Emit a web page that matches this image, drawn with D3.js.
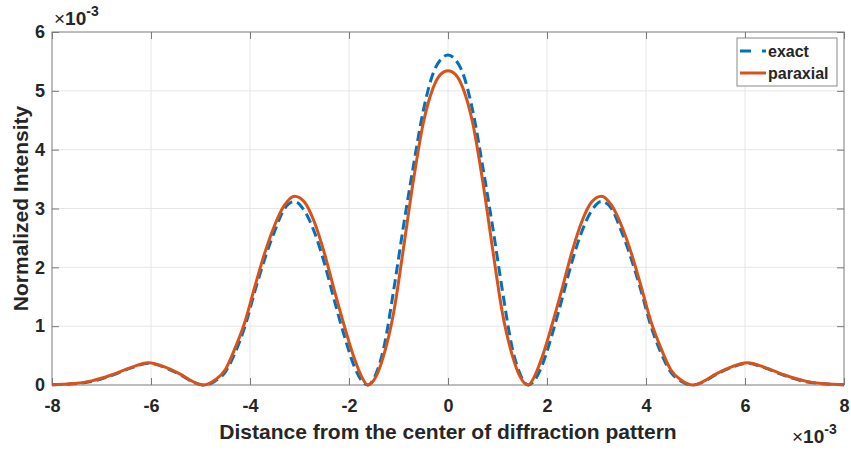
<!DOCTYPE html>
<html>
<head>
<meta charset="utf-8">
<script src="https://cdn.jsdelivr.net/npm/d3@7"></script>
<style>
  body { margin: 0; background: #fff; }
  text { font-family: "Liberation Sans", Arial, sans-serif; font-weight: bold; fill: #262626; }
</style>
</head>
<body>
<div id="chart"></div>
<script>
// values in units of 1e-3
var xVals = [-8, -7.6, -7.2, -6.8, -6.4, -6.05, -5.7, -5.4, -5.2, -4.95, -4.7, -4.5, -4.3, -4.1, -3.9, -3.7, -3.5, -3.3, -3.1, -2.9,
             -2.7, -2.5, -2.3, -2.1, -1.9, -1.75, -1.62, -1.45, -1.3, -1.1, -0.9, -0.7, -0.5, -0.3, -0.15, 0,
             0.15, 0.3, 0.5, 0.7, 0.9, 1.1, 1.3, 1.45, 1.62, 1.75, 1.9, 2.1, 2.3, 2.5, 2.7, 2.9, 3.1, 3.3, 3.5,
             3.7, 3.9, 4.1, 4.3, 4.5, 4.7, 4.95, 5.2, 5.4, 5.7, 6.05, 6.4, 6.8, 7.2, 7.6, 8];

var exactVals = [0.005, 0.02, 0.06, 0.16, 0.29, 0.37, 0.29, 0.17, 0.07, 0.0, 0.07, 0.22, 0.55, 1.0, 1.6, 2.15, 2.62, 3.0, 3.12, 2.96,
                 2.6, 2.08, 1.45, 0.85, 0.33, 0.08, 0.0, 0.2, 0.62, 1.6, 2.7, 3.72, 4.66, 5.3, 5.53, 5.61,
                 5.53, 5.3, 4.66, 3.72, 2.7, 1.6, 0.62, 0.2, 0.0, 0.08, 0.33, 0.85, 1.45, 2.08, 2.6, 2.96, 3.12, 3.0, 2.62,
                 2.15, 1.6, 1.0, 0.55, 0.22, 0.07, 0.0, 0.07, 0.17, 0.29, 0.37, 0.29, 0.16, 0.06, 0.02, 0.005];

var paraxialVals = [0.005, 0.02, 0.07, 0.17, 0.30, 0.38, 0.30, 0.18, 0.08, 0.0, 0.09, 0.26, 0.63, 1.08, 1.68, 2.25, 2.72, 3.06, 3.21, 3.11,
                    2.77, 2.25, 1.62, 1.02, 0.47, 0.15, 0.0, 0.15, 0.50, 1.22, 2.32, 3.47, 4.45, 5.05, 5.28, 5.34,
                    5.28, 5.05, 4.45, 3.47, 2.32, 1.22, 0.50, 0.15, 0.0, 0.15, 0.47, 1.02, 1.62, 2.25, 2.77, 3.11, 3.21, 3.06, 2.72,
                    2.25, 1.68, 1.08, 0.63, 0.26, 0.09, 0.0, 0.08, 0.18, 0.30, 0.38, 0.30, 0.17, 0.07, 0.02, 0.005];

var xTicks = [-8, -6, -4, -2, 0, 2, 4, 6, 8];
var yTicks = [0, 1, 2, 3, 4, 5, 6];
var seriesNames = ["exact", "paraxial"];
var seriesColors = ["#0072BD", "#D95319"];

var width = 851, height = 451;
var pLeft = 52, pRight = 844, pTop = 32, pBottom = 385;

var svg = d3.select("#chart").append("svg")
    .attr("width", width)
    .attr("height", height);

var x = d3.scaleLinear().domain([-8, 8]).range([pLeft, pRight]);
var y = d3.scaleLinear().domain([0, 6]).range([pBottom, pTop]);

// grid
svg.append("g").selectAll("line").data(xTicks.slice(1, -1)).enter().append("line")
    .attr("x1", d => x(d)).attr("x2", d => x(d))
    .attr("y1", pTop).attr("y2", pBottom)
    .style("stroke", "#e6e6e6").style("stroke-width", 1);
svg.append("g").selectAll("line").data(yTicks.slice(1, -1)).enter().append("line")
    .attr("x1", pLeft).attr("x2", pRight)
    .attr("y1", d => y(d)).attr("y2", d => y(d))
    .style("stroke", "#e6e6e6").style("stroke-width", 1);

// axes (ticks inside, box on)
function styleAxis(g) {
  g.select(".domain").remove();
  g.selectAll(".tick line").style("stroke", "#7a7a7a");
  g.selectAll("text").style("font-size", "18px").style("font-family", "Liberation Sans, Arial, sans-serif")
    .style("font-weight", "bold").style("fill", "#262626");
}
var fmt = d => String(d);
svg.append("g").attr("transform", "translate(0," + pBottom + ")")
    .call(d3.axisBottom(x).tickValues(xTicks).tickSizeInner(-7).tickSizeOuter(0).tickPadding(14).tickFormat(fmt))
    .call(styleAxis);
svg.append("g").attr("transform", "translate(" + pLeft + ",0)")
    .call(d3.axisLeft(y).tickValues(yTicks).tickSizeInner(-7).tickSizeOuter(0).tickPadding(7).tickFormat(fmt))
    .call(styleAxis);
svg.append("g").attr("transform", "translate(0," + pTop + ")")
    .call(d3.axisTop(x).tickValues(xTicks).tickSizeInner(-7).tickSizeOuter(0).tickFormat(""))
    .call(styleAxis);
svg.append("g").attr("transform", "translate(" + pRight + ",0)")
    .call(d3.axisRight(y).tickValues(yTicks).tickSizeInner(-7).tickSizeOuter(0).tickFormat(""))
    .call(styleAxis);

svg.append("rect")
    .attr("x", pLeft).attr("y", pTop)
    .attr("width", pRight - pLeft).attr("height", pBottom - pTop)
    .style("fill", "none").style("stroke", "#7a7a7a").style("stroke-width", 1);

// lines
svg.append("clipPath").attr("id", "clip").append("rect")
    .attr("x", pLeft).attr("y", pTop - 2).attr("width", pRight - pLeft).attr("height", pBottom - pTop + 4);

var line = d3.line()
    .x((d, i) => x(xVals[i]))
    .y(d => y(d))
    .curve(d3.curveMonotoneX);

svg.append("path").datum(exactVals)
    .attr("clip-path", "url(#clip)")
    .attr("d", line)
    .style("fill", "none").style("stroke", seriesColors[0]).style("stroke-width", 3)
    .style("stroke-dasharray", "10,5");

svg.append("path").datum(paraxialVals)
    .attr("clip-path", "url(#clip)")
    .attr("d", line)
    .style("fill", "none").style("stroke", seriesColors[1]).style("stroke-width", 3);

// exponent labels
function exponent(px, py) {
  var t = svg.append("text").attr("x", px).attr("y", py).style("font-size", "19px");
  t.append("tspan").text("\u00d7").style("font-weight", "normal");
  t.append("tspan").text("10");
  t.append("tspan").attr("dy", -9).style("font-size", "14px").text("-3");
}
exponent(54, 25);
exponent(792, 443);

// axis labels
svg.append("text")
    .attr("x", (pLeft + pRight) / 2).attr("y", 439)
    .attr("text-anchor", "middle")
    .style("font-size", "21px")
    .text("Distance from the center of diffraction pattern");

svg.append("text")
    .attr("transform", "translate(28," + (pTop + pBottom) / 2 + ") rotate(-90)")
    .attr("text-anchor", "middle")
    .style("font-size", "21px")
    .text("Normalized Intensity");

// legend
var legend = svg.append("g");
legend.append("rect")
    .attr("x", 737).attr("y", 38).attr("width", 100).attr("height", 48)
    .style("fill", "#fff").style("stroke", "#8a8a8a").style("stroke-width", 1);
seriesNames.forEach(function (name, i) {
  var ly = 51 + i * 22;
  legend.append("line")
      .attr("x1", 740).attr("x2", 766).attr("y1", ly).attr("y2", ly)
      .style("stroke", seriesColors[i]).style("stroke-width", 3)
      .style("stroke-dasharray", i === 0 ? "11,11,5" : null);
  legend.append("text")
      .attr("x", 768).attr("y", ly + 6)
      .style("font-size", "16px")
      .text(name);
});
</script>
</body>
</html>
